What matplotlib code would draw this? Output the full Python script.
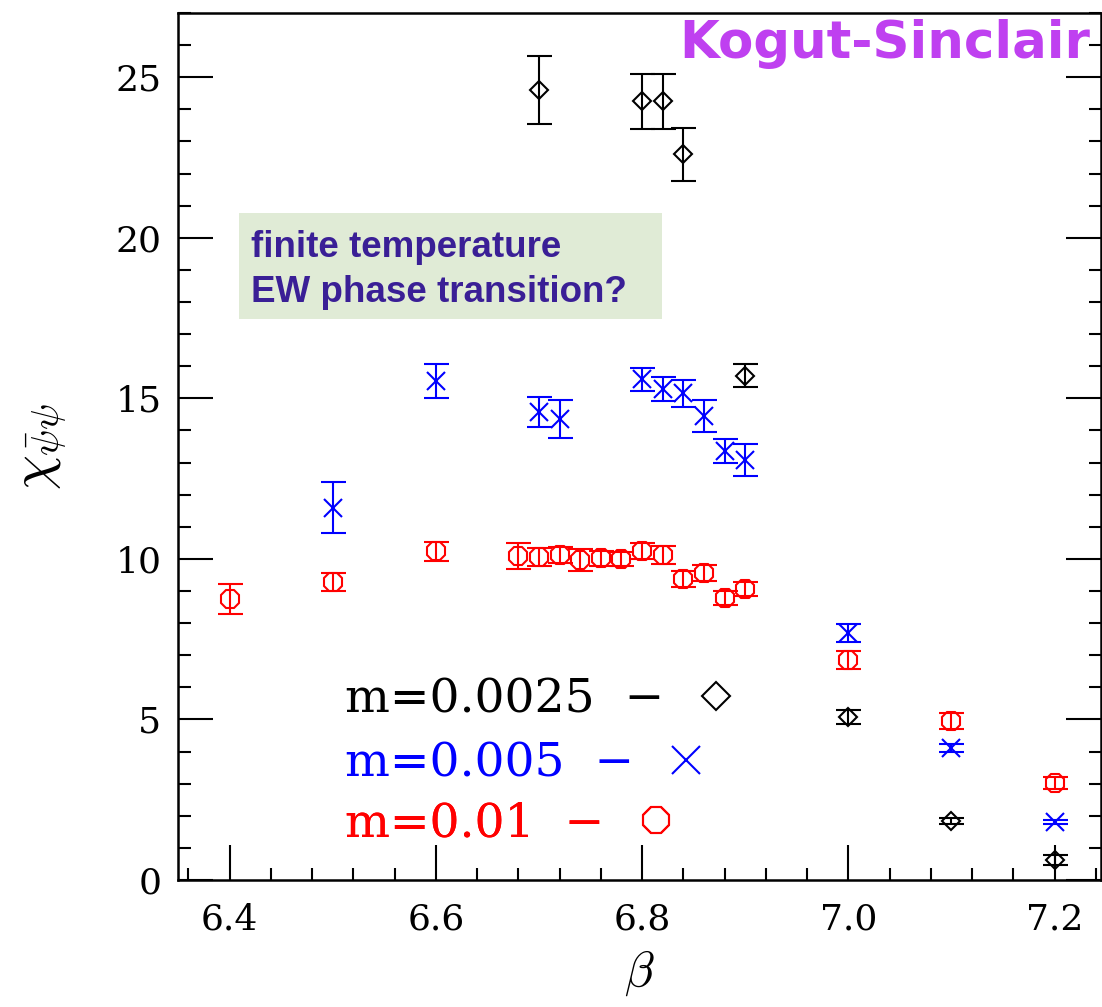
import numpy as np
import matplotlib
matplotlib.use("Agg")
import matplotlib.pyplot as plt
from matplotlib.lines import Line2D
from matplotlib.patches import Rectangle
from matplotlib.ticker import MultipleLocator

plt.rcParams['mathtext.fontset'] = 'cm'
plt.rcParams['font.family'] = 'DejaVu Serif'

# ---------------- data ----------------
# m = 0.0025 (black diamonds)
beta_a = [6.70, 6.80, 6.82, 6.84, 6.90, 7.00, 7.10, 7.20]
chi_a = [24.6, 24.25, 24.25, 22.6, 15.7, 5.07, 1.84, 0.62]
err_a = [1.07, 0.85, 0.85, 0.83, 0.36, 0.22, 0.10, 0.15]

# m = 0.005 (blue crosses)
beta_b = [6.50, 6.60, 6.70, 6.72, 6.80, 6.82, 6.84, 6.86, 6.88, 6.90, 7.00, 7.10, 7.20]
chi_b = [11.6, 15.54, 14.57, 14.35, 15.6, 15.29, 15.16, 14.45, 13.36, 13.08, 7.69, 4.11, 1.81]
err_b = [0.80, 0.53, 0.47, 0.60, 0.36, 0.37, 0.42, 0.51, 0.37, 0.50, 0.28, 0.12, 0.06]

# m = 0.01 (red octagons)
beta_c = [6.40, 6.50, 6.60, 6.68, 6.70, 6.72, 6.74, 6.76, 6.78, 6.80, 6.82,
          6.84, 6.86, 6.88, 6.90, 7.00, 7.10, 7.20]
chi_c = [8.75, 9.28, 10.24, 10.09, 10.06, 10.12, 9.96, 10.02, 10.0, 10.24, 10.12,
         9.37, 9.56, 8.78, 9.06, 6.85, 4.95, 3.02]
err_c = [0.47, 0.27, 0.30, 0.40, 0.28, 0.24, 0.34, 0.24, 0.22, 0.25, 0.27,
         0.24, 0.25, 0.23, 0.23, 0.27, 0.24, 0.20]

labels = ['m=0.0025  \u2212', 'm=0.005  \u2212', 'm=0.01  \u2212']
colors = ['black', '#0000ff', '#ff0000']
markers = ['D', 'x', '8']
###########################################################

W, H = 1102, 1007
fig = plt.figure(figsize=(W / 100, H / 100), dpi=100)
ax = fig.add_axes([178 / W, 1 - 880 / H, 923 / W, 867 / H])

common = dict(ls='none', capsize=9, elinewidth=1.5, capthick=1.5, mew=1.5)
ax.errorbar(beta_c, chi_c, yerr=err_c, marker='8', ms=14, mfc='none',
            color=colors[2], mec=colors[2], **common)
ax.errorbar(beta_b, chi_b, yerr=err_b, marker='x', ms=13,
            color=colors[1], mec=colors[1], **common)
ax.errorbar(beta_a, chi_a, yerr=err_a, marker='D', ms=9, mfc='none',
            color=colors[0], mec=colors[0], **common)

ax.set_xlim(6.35, 7.245)
ax.set_ylim(0, 27)
ax.xaxis.set_major_locator(MultipleLocator(0.2))
ax.xaxis.set_minor_locator(MultipleLocator(0.04))
ax.yaxis.set_major_locator(MultipleLocator(5))
ax.yaxis.set_minor_locator(MultipleLocator(1))
ax.xaxis.set_major_formatter(matplotlib.ticker.FormatStrFormatter('%.1f'))
ax.tick_params(which='both', direction='in', width=1.5, labelsize=26,
               left=True, right=True, bottom=True, top=False)
ax.tick_params(which='major', length=25)
ax.tick_params(which='minor', length=9)
ax.tick_params(axis='x', pad=16)
ax.tick_params(axis='y', pad=12)
for s in ax.spines.values():
    s.set_linewidth(1.8)

ax.set_xlabel(r'$\beta$', fontsize=35, labelpad=9)
ax.set_ylabel(r'$\chi_{\bar{\psi}\psi}$', fontsize=40, labelpad=34)

# annotation box
fig.add_artist(Rectangle((239 / W, 1 - 319 / H), 423 / W, 106 / H,
                         transform=fig.transFigure, fc='#e0ebd6', ec='none'))
fig.text(251 / W, 1 - 257 / H, 'finite temperature', family='Liberation Sans',
         weight='bold', fontsize=26.5, color='#3a1f96', va='baseline', ha='left')
fig.text(251 / W, 1 - 302 / H, 'EW phase transition?', family='Liberation Sans',
         weight='bold', fontsize=26.5, color='#3a1f96', va='baseline', ha='left')

fig.text(1090 / W, 1 - 44 / H, 'Kogut-Sinclair', family='DejaVu Sans',
         weight='bold', fontsize=37, color='#bf40f0', ha='right', va='center')

# legend: text followed by marker, one legend per mass
tops = [677, 741, 801]
for lab, col, mk, top in zip(labels, colors, markers, tops):
    h = Line2D([], [], ls='none', marker=mk, color=col, mfc='none', mew=1.5,
               ms={'D': 14, 'x': 20, '8': 20}[mk])
    leg = ax.legend([h], [lab], loc='upper left', frameon=False, markerfirst=False,
                    bbox_to_anchor=(345 / W, 1 - top / H),
                    bbox_transform=fig.transFigure, prop={'size': 34},
                    labelcolor=col, handlelength=1.0, handletextpad=0.6,
                    borderpad=0, borderaxespad=0)
    ax.add_artist(leg)

fig.savefig('out.png', dpi=100)
